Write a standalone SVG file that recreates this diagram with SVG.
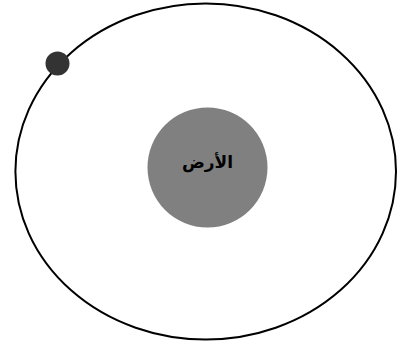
<svg xmlns="http://www.w3.org/2000/svg" width="397" height="343" viewBox="0 0 397 343">
<style>
.orbit{fill:none;stroke:#000;stroke-width:2}
.earth{fill:#808080}
.moon{fill:#333}
.lbl{font-family:"Liberation Sans","DejaVu Sans",sans-serif;font-size:17px;font-weight:bold;fill:#000}
</style>
<rect width="397" height="343" fill="#fff"/>
<g id="orbit"><ellipse class="orbit" cx="205.7" cy="171.5" rx="190.3" ry="168"/></g>
<g id="earth">
<circle class="earth" cx="207.5" cy="167.5" r="60"/>
<text class="lbl" x="207.5" y="168" text-anchor="middle" direction="rtl">الأرض</text>
</g>
<g id="moon"><circle class="moon" cx="57.5" cy="63.5" r="12"/></g>
<g id="connectors"/>
</svg>
